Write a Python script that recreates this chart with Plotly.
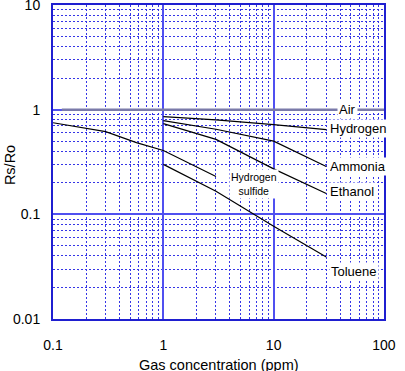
import math
import plotly.graph_objects as go

# ---- data ----
air_x = [0.12, 100]
air_y = [1.0, 1.0]

hydrogen_x = [1, 3, 10, 30]
hydrogen_y = [0.86, 0.80, 0.72, 0.645]

ammonia_x = [1, 3, 10, 20, 30]
ammonia_y = [0.785, 0.65, 0.50, 0.35, 0.286]

ethanol_x = [1, 3, 10, 30]
ethanol_y = [0.735, 0.52, 0.272, 0.158]

h2s_x = [0.1, 0.2, 0.3, 0.57, 1, 3]
h2s_y = [0.75, 0.67, 0.617, 0.485, 0.407, 0.23]

toluene_x = [1, 2, 3, 10, 30]
toluene_y = [0.30, 0.206, 0.166, 0.077, 0.039]

x_tickvals = [0.1, 1, 10, 100]
x_ticktext = ["0.1", "1", "10", "100"]
y_tickvals = [0.01, 0.1, 1, 10]
y_ticktext = ["0.01", "0.1", "1", "10"]

x_minor = [m * d for d in (0.1, 1, 10) for m in range(2, 10)]
y_minor = [m * d for d in (0.01, 0.1, 1) for m in range(2, 10)]

FONT = "Liberation Sans, Arial, sans-serif"
LINE = dict(color="black", width=1.2)

fig = go.Figure()
fig.add_trace(go.Scatter(x=air_x, y=air_y, mode="lines",
                         line=dict(color="#7a7aaa", width=2.5), hoverinfo="skip"))
for xs, ys in [(hydrogen_x, hydrogen_y), (ammonia_x, ammonia_y),
               (ethanol_x, ethanol_y), (h2s_x, h2s_y), (toluene_x, toluene_y)]:
    fig.add_trace(go.Scatter(x=xs, y=ys, mode="lines", line=LINE, hoverinfo="skip"))

minor_style = dict(showgrid=True, gridcolor="#3535e6", griddash="2px,2px", gridwidth=1, ticks="")
axis_common = dict(type="log", showgrid=True, gridcolor="#5050f0", gridwidth=2,
                   showline=True, mirror=True, linecolor="#1f1fd0", linewidth=2,
                   zeroline=False, ticks="", automargin=False, ticklabeloverflow="allow",
                   tickfont=dict(family=FONT, size=14, color="black"))

fig.update_xaxes(range=[-1.0005, 2.0005], tickvals=x_tickvals, ticktext=x_ticktext,
                 minor=dict(tickvals=x_minor, **minor_style), ticklabelstandoff=12, **axis_common)
fig.update_yaxes(range=[-2.0005, 1.0005], tickvals=y_tickvals, ticktext=y_ticktext,
                 minor=dict(tickvals=y_minor, **minor_style), ticklabelstandoff=8, **axis_common)

lab = dict(font=dict(family=FONT, size=13, color="black"), bgcolor="white",
           showarrow=False, borderpad=1)
annotations = [
    dict(x=47, y=1.0, text="Air", xanchor="center", yanchor="middle", **lab),
    dict(x=31, y=0.665, text="Hydrogen", xanchor="left", yanchor="middle", **lab),
    dict(x=31, y=0.286, text="Ammonia", xanchor="left", yanchor="middle", **lab),
    dict(x=31, y=0.166, text="Ethanol", xanchor="left", yanchor="middle", **lab),
    dict(x=32, y=0.0286, text="Toluene", xanchor="left", yanchor="middle", **lab),
    dict(x=6.6, y=0.197, text="Hydrogen<br>sulfide", xanchor="center", yanchor="middle",
         showarrow=False, bgcolor="white", borderpad=1,
         font=dict(family=FONT, size=10.5, color="black")),
]
for a in annotations:
    a["xref"] = "x"
    a["yref"] = "y"
    a["x"] = math.log10(a["x"])
    a["y"] = math.log10(a["y"])

annotations.append(dict(text="Gas concentration (ppm)", xref="paper", yref="paper",
                        x=0.5, y=-0.148, xanchor="center", yanchor="middle", showarrow=False,
                        font=dict(family=FONT, size=14.5, color="black")))
annotations.append(dict(text="Rs/Ro", xref="paper", yref="paper", textangle=-90,
                        x=-0.13, y=0.49, xanchor="center", yanchor="middle", showarrow=False,
                        font=dict(family=FONT, size=14.5, color="black")))

fig.update_layout(width=405, height=371, margin=dict(l=53, r=21, t=5, b=52, autoexpand=False),
                  plot_bgcolor="white", paper_bgcolor="white", showlegend=False,
                  annotations=annotations, font=dict(family=FONT))

fig.write_html("out.html", post_script="document.body.style.margin='0';",
               config={"displayModeBar": False})
